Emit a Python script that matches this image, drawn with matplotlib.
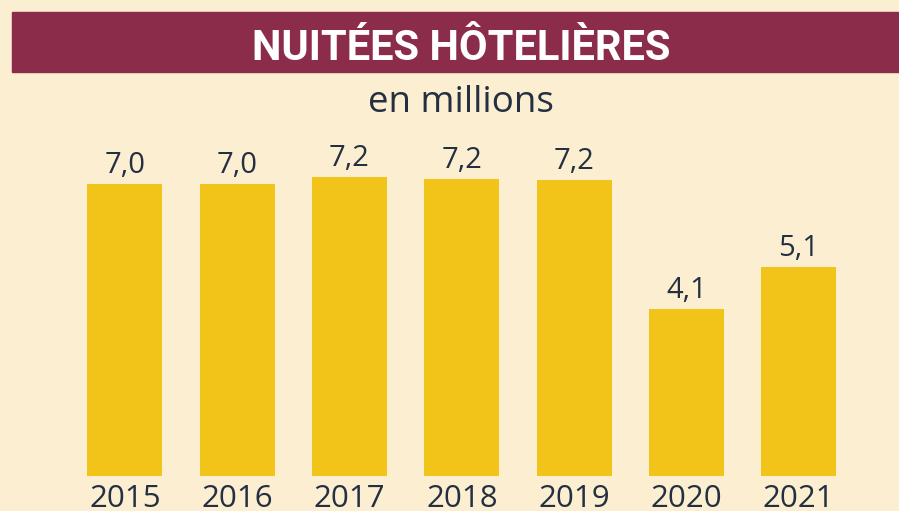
import matplotlib
matplotlib.use("Agg")
import matplotlib.pyplot as plt
from matplotlib.patches import Rectangle

# data (millions of hotel nights)
years = ["2015", "2016", "2017", "2018", "2019", "2020", "2021"]
values = [7.0, 7.0, 7.17, 7.12, 7.1, 4.1, 5.08]
labels = ["7,0", "7,0", "7,2", "7,2", "7,2", "4,1", "5,1"]

title = "NUITÉES HÔTELIÈRES"
subtitle = "en millions"

bg = "#FCEED0"
bar_color = "#F2C318"
banner_color = "#8B2C4B"
text_color = "#243042"

W, H = 899, 511
fig = plt.figure(figsize=(W / 100, H / 100), dpi=100, facecolor=bg)

# banner behind title
fig.patches.append(Rectangle((12 / W, 1 - 72 / H), (W - 12) / W, 60 / H,
                             transform=fig.transFigure, color=banner_color, zorder=0))
fig.text(461 / W, 1 - 59.5 / H, title, color="white", fontsize=30,
         fontweight="bold", family="Roboto", ha="center", va="baseline")
fig.text(461 / W, 1 - 112.5 / H, subtitle, color=text_color, fontsize=26.5,
         family="Open Sans", ha="center", va="baseline")

# axes placed so that bars sit on y=476 px and step 112.3 px
px_unit = 42.9
ymin, ymax = 0.2, 8.5
ax_h = (ymax - ymin) * px_unit
ax_w = 7 * 112.3
ax = fig.add_axes([68.8 / W, (H - 476) / H, ax_w / W, ax_h / H])
ax.set_facecolor("none")

x = range(len(years))
ax.bar(x, values, width=0.667, color=bar_color)
for xi, v, lab in zip(x, values, labels):
    ax.annotate(lab, (xi, v), xytext=(0, 8), textcoords="offset points",
                ha="center", va="baseline", fontsize=21, family="Open Sans",
                color=text_color)

ax.set_xlim(-0.5, 6.5)
ax.set_ylim(ymin, ymax)
ax.set_xticks(list(x))
ax.set_xticklabels(years, fontsize=22.5, family="Open Sans", color=text_color)
ax.tick_params(axis="x", length=0, pad=5.5)
ax.set_yticks([])
for s in ax.spines.values():
    s.set_visible(False)

fig.savefig("out.png", dpi=100, facecolor=bg)
